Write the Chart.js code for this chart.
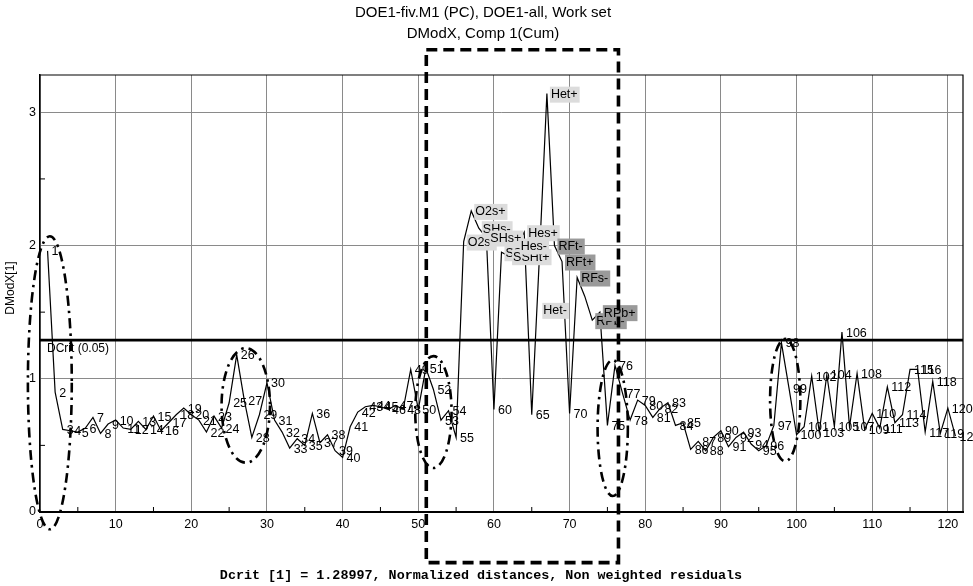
<!DOCTYPE html>
<html lang="en">
<head>
<meta charset="UTF-8">
<title>DModX - DOE1</title>
<script src="https://cdn.jsdelivr.net/npm/chart.js"></script>
<style>
    body { margin: 0; background: #fff; }
    #wrap { width: 973px; height: 586px; }
</style>
</head>
<body>
<div id="wrap"><canvas id="grafico" width="973" height="586"></canvas></div>

<script>
// dados
const titulo = ['DOE1-fiv.M1 (PC), DOE1-all, Work set', 'DModX, Comp 1(Cum)'];
const rodape = 'Dcrit [1] = 1.28997, Normalized distances, Non weighted residuals';
const tituloY = 'DModX[1]';
const dcrit = 1.28997;
const dcritTexto = 'DCrit (0.05)';

const xTicks = [0, 10, 20, 30, 40, 50, 60, 70, 80, 90, 100, 110, 120];
const yTicks = [0, 1, 2, 3];

const obs = Array.from({ length: 121 }, (_, i) => i + 1);
const dmodx = [
    1.96, 0.90, 0.62, 0.61, 0.60, 0.63, 0.71, 0.59, 0.66, 0.69,   // 1-10
    0.63, 0.62, 0.68, 0.62, 0.72, 0.61, 0.67, 0.73, 0.78, 0.73,   // 11-20
    0.69, 0.60, 0.72, 0.63, 0.82, 1.18, 0.84, 0.56, 0.73, 0.97,   // 21-30
    0.69, 0.60, 0.48, 0.55, 0.50, 0.74, 0.52, 0.58, 0.46, 0.41,   // 31-40
    0.64, 0.75, 0.79, 0.80, 0.79, 0.77, 0.80, 0.77, 1.07, 0.77,   // 41-50
    1.08, 0.92, 0.69, 0.76, 0.56, 2.03, 2.26, 2.13, 2.06, 0.77,   // 51-60
    1.95, 1.92, 2.00, 2.10, 0.73, 1.90, 3.14, 2.00, 1.88, 0.74,   // 61-70
    1.76, 1.62, 1.44, 1.50, 0.65, 1.10, 0.89, 0.69, 0.84, 0.80,   // 71-80
    0.71, 0.78, 0.82, 0.65, 0.67, 0.47, 0.53, 0.46, 0.56, 0.61,   // 81-90
    0.49, 0.56, 0.60, 0.51, 0.46, 0.50, 0.65, 1.27, 0.93, 0.58,   // 91-100
    0.64, 1.02, 0.60, 1.03, 0.64, 1.35, 0.64, 1.04, 0.62, 0.74,   // 101-110
    0.63, 0.94, 0.67, 0.73, 1.07, 1.07, 0.60, 0.98, 0.59, 0.78,   // 111-120
    0.57                                                          // 121
];

// observacoes com nome em vez de numero
const nomeObs = [56, 57, 58, 59, 61, 62, 63, 64, 66, 67, 68, 69, 71, 72, 73, 74];
const nomes = ['O2s-', 'O2s+', 'SHs-', 'SHs+', 'SSHt-', 'SSHt+', 'Hes-', 'Hes+',
               'Het-', 'Het+', 'RFt-', 'RFt+', 'RFs-', '', 'RPb-', 'RPb+'];
const nomesEscuros = ['RFt-', 'RFt+', 'RFs-', 'RPb-', 'RPb+'];

// marcacoes desenhadas por cima (em unidades do grafico)
const elipseX = [1.3, 27.2, 52.0, 75.7, 98.5];
const elipseY = [0.97, 0.80, 0.75, 0.63, 0.84];
const elipseRx = [2.9, 3.2, 2.4, 2.0, 2.0];
const elipseRy = [1.10, 0.43, 0.42, 0.51, 0.46];
const caixaX = [51.06, 76.46];
const caixaY = [-0.38, 3.47];

// ajuste de posicao de rotulo (px)
const desvioRotulo = { 66: 51 };

const rotulos = obs.map(o => {
    const k = nomeObs.indexOf(o);
    return k >= 0 ? nomes[k] : String(o);
});

const fonte = 'Liberation Sans, Arial, sans-serif';

const desenhoExtra = {
    id: 'desenhoExtra',
    beforeDraw(chart) {
        const ctx = chart.ctx;
        ctx.save();
        ctx.fillStyle = '#fff';
        ctx.fillRect(0, 0, chart.width, chart.height);
        ctx.restore();
    },
    afterDatasetsDraw(chart) {
        const ctx = chart.ctx;
        const a = chart.chartArea;
        const sx = chart.scales.x, sy = chart.scales.y;
        ctx.save();

        // moldura
        ctx.strokeStyle = '#000';
        ctx.lineWidth = 1.2;
        ctx.beginPath();
        ctx.moveTo(a.left, a.top);
        ctx.lineTo(a.right, a.top);
        ctx.lineTo(a.right, a.bottom);
        ctx.stroke();

        // marcas menores
        ctx.lineWidth = 1;
        ctx.beginPath();
        for (let v = 5; v < 122; v += 10) {
            const px = sx.getPixelForValue(v);
            ctx.moveTo(px, a.bottom);
            ctx.lineTo(px, a.bottom - 5);
        }
        for (let v = 0.5; v < 3.28; v += 1) {
            const py = sy.getPixelForValue(v);
            ctx.moveTo(a.left, py);
            ctx.lineTo(a.left + 5, py);
        }
        ctx.stroke();

        // linha DCrit
        const yc = sy.getPixelForValue(dcrit);
        ctx.lineWidth = 2.6;
        ctx.beginPath();
        ctx.moveTo(a.left, yc);
        ctx.lineTo(a.right, yc);
        ctx.stroke();
        ctx.fillStyle = '#000';
        ctx.font = '12px ' + fonte;
        ctx.textBaseline = 'top';
        ctx.textAlign = 'left';
        ctx.fillText(dcritTexto, a.left + 7, yc + 3);

        // rotulos dos pontos
        ctx.font = '12.5px ' + fonte;
        ctx.textBaseline = 'middle';
        obs.forEach((o, i) => {
            const txt = rotulos[i];
            if (!txt) return;
            const px = sx.getPixelForValue(o) + 4;
            const py = sy.getPixelForValue(dmodx[i]) + 1 + (desvioRotulo[o] || 0);
            if (nomeObs.includes(o)) {
                const w = ctx.measureText(txt).width;
                ctx.fillStyle = nomesEscuros.includes(txt) ? '#9a9a9a' : '#dcdcdc';
                ctx.fillRect(px - 1, py - 8, w + 3, 16);
            }
            ctx.fillStyle = '#000';
            ctx.fillText(txt, px, py);
        });
        ctx.restore();
    },
    afterDraw(chart) {
        const ctx = chart.ctx;
        const sx = chart.scales.x, sy = chart.scales.y;
        ctx.save();
        ctx.fillStyle = '#000';
        ctx.textAlign = 'center';
        ctx.textBaseline = 'middle';

        ctx.font = '15px ' + fonte;
        ctx.fillText(titulo[0], 483, 13);
        ctx.fillText(titulo[1], 483, 34);

        ctx.font = 'bold 13.4px Liberation Mono, Courier New, monospace';
        ctx.fillText(rodape, 481, 576);

        ctx.save();
        ctx.translate(11, 288);
        ctx.rotate(-Math.PI / 2);
        ctx.font = '12px ' + fonte;
        ctx.fillText(tituloY, 0, 0);
        ctx.restore();

        // elipses traco-ponto
        ctx.strokeStyle = '#000';
        ctx.lineWidth = 2.6;
        ctx.setLineDash([10, 5, 2.5, 5]);
        elipseX.forEach((cx, i) => {
            const px = sx.getPixelForValue(cx);
            const py = sy.getPixelForValue(elipseY[i]);
            const rx = Math.abs(sx.getPixelForValue(cx + elipseRx[i]) - px);
            const ry = Math.abs(sy.getPixelForValue(elipseY[i] + elipseRy[i]) - py);
            ctx.beginPath();
            ctx.ellipse(px, py, rx, ry, 0, 0, Math.PI * 2);
            ctx.stroke();
        });

        // caixa tracejada
        ctx.lineWidth = 3.6;
        ctx.setLineDash([11, 6]);
        const x1 = sx.getPixelForValue(caixaX[0]), x2 = sx.getPixelForValue(caixaX[1]);
        const y1 = sy.getPixelForValue(caixaY[1]), y2 = sy.getPixelForValue(caixaY[0]);
        ctx.strokeRect(x1, y1, x2 - x1, y2 - y1);
        ctx.restore();
    }
};

const ctx = document.getElementById('grafico').getContext('2d');
new Chart(ctx, {
    type: 'line',
    data: {
        datasets: [{
            data: obs.map((o, i) => ({ x: o, y: dmodx[i] })),
            borderColor: '#000',
            borderWidth: 1.2,
            pointRadius: 0,
            tension: 0,
            fill: false
        }]
    },
    options: {
        responsive: false,
        animation: false,
        layout: { padding: { top: 75, right: 10, left: 0, bottom: 0 } },
        plugins: {
            legend: { display: false },
            tooltip: { enabled: false }
        },
        scales: {
            x: {
                type: 'linear',
                min: 0,
                max: 122,
                afterFit: s => { s.height = 74; },
                afterBuildTicks: s => { s.ticks = xTicks.map(v => ({ value: v })); },
                ticks: {
                    color: '#000',
                    font: { family: fonte, size: 12.5 },
                    padding: 5,
                    maxRotation: 0,
                    autoSkip: false
                },
                grid: { color: '#8a8a8a', lineWidth: 1, drawTicks: false },
                border: { color: '#000', width: 2 }
            },
            y: {
                min: 0,
                max: 3.28,
                afterFit: s => { s.width = 40; },
                afterBuildTicks: s => { s.ticks = yTicks.map(v => ({ value: v })); },
                ticks: {
                    color: '#000',
                    font: { family: fonte, size: 12.5 },
                    padding: 4
                },
                grid: { color: '#8a8a8a', lineWidth: 1, drawTicks: false },
                border: { color: '#000', width: 1.5 }
            }
        }
    },
    plugins: [desenhoExtra]
});
</script>
</body>
</html>
